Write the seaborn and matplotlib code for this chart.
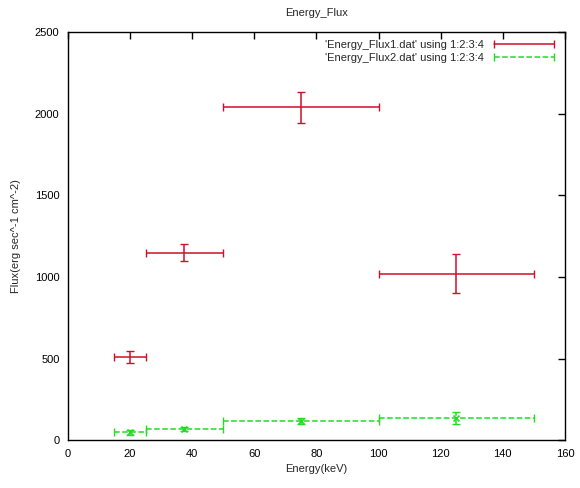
import numpy as np
import pandas as pd
import matplotlib
matplotlib.use("Agg")
import matplotlib.pyplot as plt
from matplotlib.lines import Line2D
import seaborn as sns

# Energy bins (keV): centre, low edge, high edge
energy = [20, 37.5, 75, 125]
e_low = [15, 25, 50, 100]
e_high = [25, 50, 100, 150]

# Flux for the two data files, with their errors
flux1 = [510, 1150, 2040, 1020]
flux1_err = [38, 55, 95, 120]
flux2 = [48, 68, 118, 135]
flux2_err = [14, 12, 18, 35]

labels = ["'Energy_Flux1.dat' using 1:2:3:4", "'Energy_Flux2.dat' using 1:2:3:4"]

df = pd.DataFrame({
    "energy": energy * 2,
    "lo": e_low * 2,
    "hi": e_high * 2,
    "flux": flux1 + flux2,
    "err": flux1_err + flux2_err,
    "set": [labels[0]] * 4 + [labels[1]] * 4,
})

sns.set_style("white")
plt.rcParams["font.family"] = ["Liberation Sans", "DejaVu Sans"]
plt.rcParams["font.size"] = 8

fig = plt.figure(figsize=(5.8, 4.88), dpi=100)
ax = fig.add_axes([0.117, 0.098, 0.857, 0.836])

colors = {labels[0]: "#d0102a", labels[1]: "#22dd22"}
styles = {labels[0]: "-", labels[1]: "--"}

for name, sub in df.groupby("set", sort=False):
    xerr = np.vstack([sub["energy"] - sub["lo"], sub["hi"] - sub["energy"]])
    eb = ax.errorbar(sub["energy"], sub["flux"], xerr=xerr, yerr=sub["err"],
                     fmt="none", ecolor=colors[name], elinewidth=1.1,
                     capsize=3, capthick=1.0)
    for lc in eb[2]:
        lc.set_linestyle(styles[name])

sns.scatterplot(data=df[df["set"] == labels[1]], x="energy", y="flux",
                marker="x", s=18, color="#22dd22", linewidth=1.2,
                ax=ax, legend=False, zorder=3)

ax.set_xlim(0, 160)
ax.set_ylim(0, 2500)
ax.set_xticks(np.arange(0, 161, 20))
ax.set_yticks(np.arange(0, 2501, 500))
ax.tick_params(direction="in", length=5, width=1, top=True, right=True,
               labelsize=8, pad=6, colors="black")
for s in ax.spines.values():
    s.set_visible(True)
    s.set_color("black")
    s.set_linewidth(1.0)

ax.set_title("Energy_Flux", fontsize=8, pad=12)
ax.set_xlabel("Energy(keV)", fontsize=8, labelpad=4)
ax.set_ylabel("Flux(erg sec^-1 cm^-2)", fontsize=8, labelpad=10)

# gnuplot-style key: a bar with end caps after each label
handles = [Line2D([0], [0], color=colors[n], linestyle=styles[n], linewidth=1.1,
                  marker="|", markersize=6, markeredgewidth=1.0) for n in labels]
leg = ax.legend(handles, labels, loc="upper right", frameon=False,
                markerfirst=False, numpoints=2, fontsize=8,
                handlelength=6.0, handletextpad=0.6, borderaxespad=0.3,
                labelspacing=0.3)
for t in leg.get_texts():
    t.set_ha("right")

fig.savefig("out.png", dpi=100)
